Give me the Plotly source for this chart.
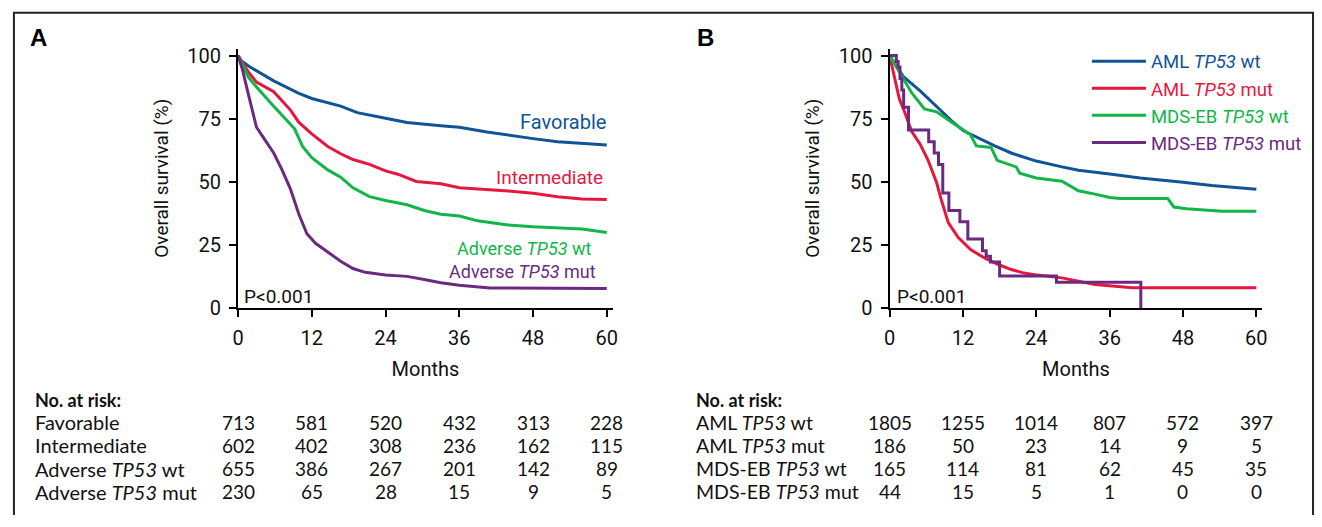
import plotly.graph_objects as go

W, H = 1322, 527

# ---------------- data ----------------
risk_times = [0, 12, 24, 36, 48, 60]

# Panel A
fav_t = [0, 0.5, 1.7, 3, 5.8, 9.9, 12, 16.7, 19.4, 24, 27.5, 33, 36, 40.5, 43.9, 48, 52, 60]
fav_s = [100, 98, 95.9, 94, 90, 85, 83, 80, 77.4, 75.2, 73.5, 72.2, 71.6, 69.7, 68.4, 67.1, 65.9, 64.6]
int_t = [0, 1.7, 3, 5.8, 7, 8.5, 9.9, 12, 14.6, 16.7, 18.7, 21.4, 24, 26, 29, 33, 36, 40.5, 44, 48, 52, 56, 60]
int_s = [100, 93.4, 89.5, 85.7, 82.5, 78.5, 73.5, 69, 64, 61.1, 58.8, 56.9, 54.3, 53, 50.1, 49.2, 47.6, 47, 46.3, 45.4, 44.1, 43.2, 43]
advwt_t = [0, 1.7, 3, 5.8, 9.2, 10.5, 12, 14.6, 16.7, 18.7, 21.4, 24, 27.5, 30.3, 33, 36, 39, 43.9, 48, 52, 56, 60]
advwt_s = [100, 91.4, 87.6, 79.9, 71, 64, 59.5, 54.7, 51.8, 47.6, 44.1, 42.6, 40.9, 38.6, 37.1, 36.4, 34.5, 32.9, 32.2, 31.7, 31.3, 29.9]
advmut_t = [0, 0.7, 1.7, 3, 4.4, 5.8, 7.1, 8.5, 9.9, 11.2, 12.6, 14.6, 16.7, 18.7, 20.7, 24, 27.5, 30.3, 33, 36, 41, 60]
advmut_s = [100, 94.6, 84.4, 71.6, 66.5, 61.4, 55, 47.3, 37.1, 29.4, 25.6, 22, 18.5, 15.6, 14.1, 13, 12.5, 11.3, 10, 9, 7.9, 7.7]

# Panel B
amlwt_t = [0, 2.25, 5, 7.7, 10.4, 12.1, 14.5, 17.2, 20, 24, 28.2, 30.9, 36, 41, 48, 52.7, 60]
amlwt_s = [100, 91.7, 86, 79.6, 73.6, 70.2, 67.4, 64.2, 61.3, 58.2, 55.9, 54.6, 53.1, 51.5, 49.8, 48.5, 47]
amlmut_t = [0, 0.5, 1.6, 2.25, 3.6, 5, 6.3, 7.7, 8.4, 9.6, 11.2, 13.3, 15.6, 17.7, 19.8, 22, 24.2, 28.2, 33.6, 39.7, 60]
amlmut_s = [100, 94.3, 82.8, 79, 70, 64.9, 58.5, 49.6, 43.3, 33.8, 28, 23, 19.7, 17.3, 15.3, 13.8, 13, 11.9, 9.3, 8, 8]
mdswt_t = [0, 1.6, 3.6, 5.7, 7.7, 10.4, 13.2, 14.2, 16.6, 17.6, 20.7, 21.3, 24, 28.2, 30.9, 33.6, 36, 37.7, 45.5, 46.5, 48.6, 54.4, 60]
mdswt_s = [100, 93.7, 85.3, 78.9, 77.7, 73.2, 68.7, 64.2, 63.6, 58.5, 55.9, 53.4, 51.5, 50.2, 46.4, 45.1, 43.8, 43.4, 43.4, 40, 39.3, 38.3, 38.3]
mdsmut_t = [0, 1.1, 1.4, 1.7, 2.0, 2.3, 3.1, 6.4, 7.3, 8.0, 8.7, 9.7, 11.5, 12.8, 15.2, 15.8, 16.5, 18.0, 27.3, 41.1]
mdsmut_s = [100, 97.7, 95.5, 90.9, 86.4, 79.5, 70.5, 65.9, 61.4, 56.8, 45.5, 38.6, 34.1, 27.3, 22.7, 20.5, 18.2, 12.6, 10.2, 0]

# Numbers at risk
labels_A = ["Favorable", "Intermediate", "Adverse <i>TP53</i> wt", "Adverse <i>TP53</i> mut"]
risk_A = [
    [713, 581, 520, 432, 313, 228],
    [602, 402, 308, 236, 162, 115],
    [655, 386, 267, 201, 142, 89],
    [230, 65, 28, 15, 9, 5],
]
labels_B = ["AML <i>TP53</i> wt", "AML <i>TP53</i> mut", "MDS-EB <i>TP53</i> wt", "MDS-EB <i>TP53</i> mut"]
risk_B = [
    [1805, 1255, 1014, 807, 572, 397],
    [186, 50, 23, 14, 9, 5],
    [165, 114, 81, 62, 45, 35],
    [44, 15, 5, 1, 0, 0],
]

# ---------------- styles ----------------
BLUE = "#0f5495"
RED = "#e5173f"
GREEN = "#12b548"
PURPLE = "#6b2a7f"
PFONT = "Roboto, Lato, sans-serif"
TFONT = "Lato, Noto Sans, sans-serif"
LW = 3


def px(x):
    return x / W


def py(y):
    return 1 - y / H


fig = go.Figure()

def add(t, s, color, name, xa, ya, show, shape="linear"):
    fig.add_trace(go.Scatter(
        x=t, y=s, mode="lines", line=dict(color=color, width=LW, shape=shape),
        name=name, showlegend=show, xaxis=xa, yaxis=ya, hoverinfo="skip"))

add(fav_t, fav_s, BLUE, "Favorable", "x", "y", False)
add(int_t, int_s, RED, "Intermediate", "x", "y", False)
add(advwt_t, advwt_s, GREEN, "Adverse TP53 wt", "x", "y", False)
add(advmut_t, advmut_s, PURPLE, "Adverse TP53 mut", "x", "y", False)

add(amlwt_t, amlwt_s, BLUE, f'<span style="color:{BLUE}">AML <i>TP53</i> wt</span>', "x2", "y2", True)
add(amlmut_t, amlmut_s, RED, f'<span style="color:{RED}">AML <i>TP53</i> mut</span>', "x2", "y2", True)
add(mdswt_t, mdswt_s, GREEN, f'<span style="color:{GREEN}">MDS-EB <i>TP53</i> wt</span>', "x2", "y2", True)
add(mdsmut_t, mdsmut_s, PURPLE, f'<span style="color:{PURPLE}">MDS-EB <i>TP53</i> mut</span>', "x2", "y2", True, shape="hv")

axis_common = dict(
    showline=True, linecolor="black", linewidth=2, ticks="outside", ticklen=7,
    tickwidth=2, tickcolor="black", showgrid=False, zeroline=False,
    ticklabelstandoff=4,
    tickfont=dict(family=PFONT, size=20, color="#111"),
)
xcommon = dict(axis_common, range=[0, 61], tickvals=risk_times,
               title=dict(text="Months", font=dict(family=PFONT, size=20, color="#111"), standoff=13))
ycommon = dict(axis_common, range=[0, 102.8], tickvals=[0, 25, 50, 75, 100],
               title=dict(text="Overall survival (%)", font=dict(family=PFONT, size=19, color="#111"), standoff=14))

ydom = [py(313), py(45)]
fig.update_layout(
    width=W, height=H, margin=dict(l=0, r=0, t=0, b=0),
    paper_bgcolor="white", plot_bgcolor="white",
    xaxis=dict(xcommon, domain=[px(234), px(612)], anchor="y"),
    yaxis=dict(ycommon, domain=ydom, anchor="x"),
    xaxis2=dict(xcommon, domain=[px(891), px(1267)], anchor="y2"),
    yaxis2=dict(ycommon, domain=ydom, anchor="x2"),
    legend=dict(x=px(1090), y=py(39), xanchor="left", yanchor="top",
                font=dict(family=PFONT, size=18.5), bgcolor="rgba(0,0,0,0)",
                itemwidth=54, tracegroupgap=0),
    showlegend=True,
)

ann = []
# panel letters
ann.append(dict(text="<b>A</b>", x=px(22), y=py(34), xref="paper", yref="paper", xanchor="left", yanchor="middle",
                showarrow=False, font=dict(family="Liberation Sans, Arial", size=24, color="black")))
ann.append(dict(text="<b>B</b>", x=px(695), y=py(34), xref="paper", yref="paper", xanchor="left", yanchor="middle",
                showarrow=False, font=dict(family="Liberation Sans, Arial", size=24, color="black")))
# curve labels in A
for txt, col, yy, xx, fs in [("Favorable", BLUE, 121, 607, 20), ("Intermediate", RED, 178, 604, 19),
                             ("Adverse <i>TP53</i> wt", GREEN, 252, 592, 18),
                             ("Adverse <i>TP53</i> mut", PURPLE, 275, 597, 18)]:
    ann.append(dict(text=txt, x=px(xx), y=py(yy), xref="paper", yref="paper", xanchor="right", yanchor="middle",
                    showarrow=False, font=dict(family=PFONT, size=fs, color=col)))
# p-values
for xx in (238, 896):
    ann.append(dict(text="P<0.001", x=px(xx), y=py(301), xref="paper", yref="paper", xanchor="left", yanchor="middle",
                    showarrow=False, font=dict(family=PFONT, size=19, color="#111")))

# risk tables
row_y = [431, 455, 479, 503]
for lab_x, xref, labels, risk in [(27, "x", labels_A, risk_A), (694, "x2", labels_B, risk_B)]:
    ann.append(dict(text="<b>No. at risk:</b>", x=px(lab_x), y=py(408), xref="paper", yref="paper",
                    xanchor="left", yanchor="middle", showarrow=False,
                    font=dict(family=TFONT, size=18, color="#111")))
    for lab, vals, yy in zip(labels, risk, row_y):
        ann.append(dict(text=lab, x=px(lab_x), y=py(yy), xref="paper", yref="paper",
                        xanchor="left", yanchor="middle", showarrow=False,
                        font=dict(family=TFONT, size=20 if xref == "x" else 19.5, color="#111")))
        for t, v in zip(risk_times, vals):
            ann.append(dict(text=str(v), x=t, y=py(yy), xref=xref, yref="paper",
                            xanchor="center", yanchor="middle", showarrow=False,
                            font=dict(family=TFONT, size=19, color="#111")))
fig.update_layout(annotations=ann)

# frame
fig.update_layout(shapes=[
    dict(type="line", xref="paper", yref="paper", x0=px(7), x1=px(1319), y0=py(8), y1=py(8), line=dict(color="#222", width=2)),
    dict(type="line", xref="paper", yref="paper", x0=px(8), x1=px(8), y0=py(8), y1=0, line=dict(color="#222", width=2)),
    dict(type="line", xref="paper", yref="paper", x0=px(1318), x1=px(1318), y0=py(8), y1=0, line=dict(color="#222", width=2)),
])

fig.write_html("out.html", config={"displayModeBar": False},
               post_script="document.body.style.margin='0';document.body.style.overflow='hidden';")
